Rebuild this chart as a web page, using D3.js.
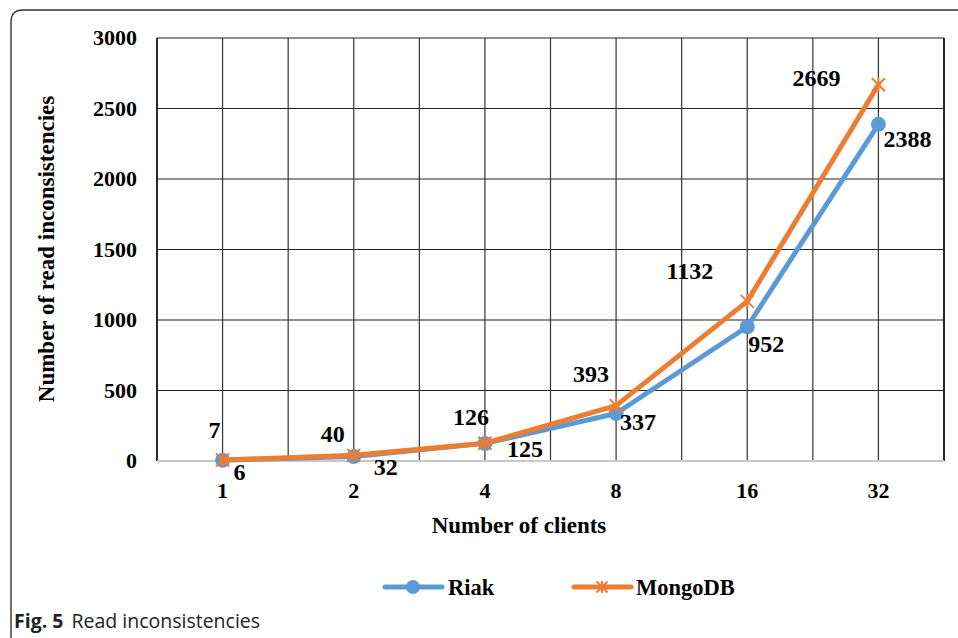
<!DOCTYPE html>
<html><head><meta charset="utf-8">
<script src="https://cdn.jsdelivr.net/npm/d3@7"></script>
<style>html,body{margin:0;padding:0;background:#fff;}svg{display:block;}</style>
</head><body>
<svg id="c" width="958" height="638"></svg>
<script>
const categories = ["1", "2", "4", "8", "16", "32"];
const riak = [6, 32, 125, 337, 952, 2388];
const mongo = [7, 40, 126, 393, 1132, 2669];
const yTicks = [0, 500, 1000, 1500, 2000, 2500, 3000];
const seriesNames = ["Riak", "MongoDB"];

// label nudges (pixels, relative to each point) as placed in the original
const riakLabelDx = [11, 20, 22, 4, 1, 5];
const riakLabelDy = [20, 19, 14, 17, 25, 23];
const mongoLabelDx = [-2, -9, 4, -7, -34, -38];   // right edge of text
const mongoLabelDy = [-22, -13, -18, -24, -22, 1];

const svg = d3.select("#c");
const serif = "'Liberation Serif','Times New Roman',serif";
const L = 157, R = 944, T = 38, B = 461;

svg.append("path")
  .attr("d", `M11,640 L11,22 Q11,10 23,10 L960,10`)
  .attr("fill", "none").attr("stroke", "#333").attr("stroke-width", 1.4);

const xb = d3.scaleBand().domain(categories).range([L, R]).padding(0);
const x = d => xb(d) + xb.bandwidth() / 2;
const y = d3.scaleLinear().domain([0, 3000]).range([B, T]);

const g = svg.append("g");
g.selectAll(".hg").data(yTicks.filter(v => v > 0)).enter().append("line")
  .attr("x1", L).attr("x2", R).attr("y1", d => y(d)).attr("y2", d => y(d))
  .attr("stroke", "#222").attr("stroke-width", 1.2);
const vx = [];
categories.forEach(c => { vx.push(xb(c)); vx.push(x(c)); });
vx.push(R);
g.selectAll(".vg").data(vx).enter().append("line")
  .attr("x1", d => d).attr("x2", d => d).attr("y1", T).attr("y2", B)
  .attr("stroke", "#333").attr("stroke-width", 1.2);
g.append("line").attr("x1", L).attr("x2", L).attr("y1", T).attr("y2", B).attr("stroke", "#111").attr("stroke-width", 1.6);
g.append("line").attr("x1", R).attr("x2", R).attr("y1", T).attr("y2", B).attr("stroke", "#111").attr("stroke-width", 1.6);
g.append("line").attr("x1", L).attr("x2", R).attr("y1", B).attr("y2", B)
  .attr("stroke", "#c8c8c8").attr("stroke-width", 1.8);

const fs = 22;
svg.selectAll(".yl").data(yTicks).enter().append("text")
  .attr("x", 137).attr("y", d => y(d) + 7)
  .attr("text-anchor", "end").attr("font-family", serif).attr("font-weight", "bold")
  .attr("font-size", fs).attr("fill", "#000").text(d => d);
svg.selectAll(".xl").data(categories).enter().append("text")
  .attr("x", d => x(d)).attr("y", 498)
  .attr("text-anchor", "middle").attr("font-family", serif).attr("font-weight", "bold")
  .attr("font-size", fs).attr("fill", "#000").text(d => d);
svg.append("text").attr("x", 519).attr("y", 533).attr("text-anchor", "middle")
  .attr("font-family", serif).attr("font-weight", "bold").attr("font-size", 23).text("Number of clients");
svg.append("text").attr("transform", "translate(54,249) rotate(-90)").attr("text-anchor", "middle")
  .attr("font-family", serif).attr("font-weight", "bold").attr("font-size", 23).text("Number of read inconsistencies");

const blue = "#5B9BD5", orange = "#ED7D31";
const line = d3.line().x((d, i) => x(categories[i])).y(d => y(d));

svg.append("path").datum(riak).attr("d", line).attr("fill", "none")
  .attr("stroke", blue).attr("stroke-width", 5).attr("stroke-linejoin", "round").attr("stroke-linecap", "round");
svg.selectAll(".rm").data(riak).enter().append("circle")
  .attr("cx", (d, i) => x(categories[i])).attr("cy", d => y(d)).attr("r", 7.5).attr("fill", blue);

svg.append("path").datum(mongo).attr("d", line).attr("fill", "none")
  .attr("stroke", orange).attr("stroke-width", 5).attr("stroke-linejoin", "round").attr("stroke-linecap", "round");
function star(sel, cx, cy, s) {
  const gg = sel.append("g").attr("transform", `translate(${cx},${cy})`)
    .attr("stroke", orange).attr("stroke-width", 2);
  gg.append("line").attr("x1", -s).attr("y1", -s).attr("x2", s).attr("y2", s);
  gg.append("line").attr("x1", -s).attr("y1", s).attr("x2", s).attr("y2", -s);
  gg.append("line").attr("x1", 0).attr("y1", -s * 1.1).attr("x2", 0).attr("y2", s * 1.1);
}
mongo.forEach((d, i) => star(svg, x(categories[i]), y(d), 6.5));

const lfs = 24;
svg.selectAll(".rl").data(riak).enter().append("text")
  .attr("x", (d, i) => x(categories[i]) + riakLabelDx[i]).attr("y", (d, i) => y(d) + riakLabelDy[i])
  .attr("font-family", serif).attr("font-weight", "bold").attr("font-size", lfs).text(d => d);
svg.selectAll(".ml").data(mongo).enter().append("text")
  .attr("x", (d, i) => x(categories[i]) + mongoLabelDx[i]).attr("y", (d, i) => y(d) + mongoLabelDy[i])
  .attr("text-anchor", "end")
  .attr("font-family", serif).attr("font-weight", "bold").attr("font-size", lfs).text(d => d);

const ly = 587;
const lg = svg.append("g");
lg.append("line").attr("x1", 385).attr("x2", 442).attr("y1", ly).attr("y2", ly)
  .attr("stroke", blue).attr("stroke-width", 5).attr("stroke-linecap", "round");
lg.append("circle").attr("cx", 413).attr("cy", ly).attr("r", 7).attr("fill", blue);
lg.append("text").attr("x", 448).attr("y", ly + 8).attr("font-family", serif).attr("font-weight", "bold")
  .attr("font-size", 22.5).text(seriesNames[0]);
lg.append("line").attr("x1", 574).attr("x2", 631).attr("y1", ly).attr("y2", ly)
  .attr("stroke", orange).attr("stroke-width", 5).attr("stroke-linecap", "round");
star(lg, 602, ly, 5.5);
lg.append("text").attr("x", 636).attr("y", ly + 8).attr("font-family", serif).attr("font-weight", "bold")
  .attr("font-size", 22.5).text(seriesNames[1]);

const cap = svg.append("text").attr("x", 14).attr("y", 628).attr("font-family", "'Open Sans','Noto Sans',sans-serif")
  .attr("font-size", 19.5).attr("fill", "#222");
cap.append("tspan").attr("font-weight", "bold").text("Fig. 5");
cap.append("tspan").attr("dx", 8).text("Read inconsistencies");
</script>
</body></html>
